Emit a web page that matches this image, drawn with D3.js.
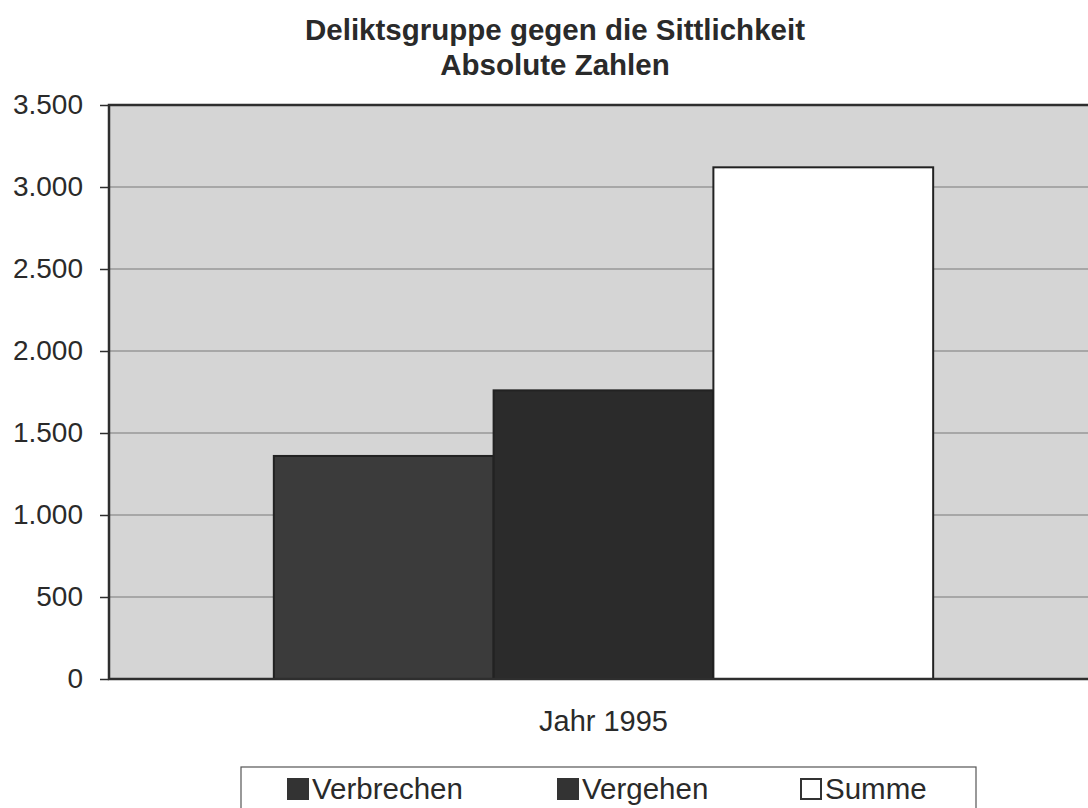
<!DOCTYPE html>
<html>
<head>
<meta charset="utf-8">
<script src="https://cdn.jsdelivr.net/npm/d3@7"></script>
<style>
  body { margin: 0; background: #fff; }
  svg { display: block; }
</style>
</head>
<body>
<svg width="1088" height="808"></svg>
<script>
// data
const categories = ["Jahr 1995"];
const seriesNames = ["Verbrechen", "Vergehen", "Summe"];
const seriesValues = [1360, 1760, 3120];
const seriesColours = ["#3b3b3b", "#2b2b2b", "#ffffff"];
const yTicks = [0, 500, 1000, 1500, 2000, 2500, 3000, 3500];
const titleLines = ["Deliktsgruppe gegen die Sittlichkeit", "Absolute Zahlen"];

const svg = d3.select("svg");
const font = "Liberation Sans, Arial, sans-serif";

const plot = {left: 109, top: 105, right: 1098, bottom: 679};

const y = d3.scaleLinear().domain([0, 3500]).range([plot.bottom, plot.top]);
const x0 = d3.scaleBand().domain(categories).range([plot.left, plot.right]).paddingInner(0).paddingOuter(0.25);
const x1 = d3.scaleBand().domain(seriesNames).range([0, x0.bandwidth()]);

// title
svg.append("g").selectAll("text")
    .data(titleLines)
    .enter().append("text")
    .attr("x", 555)
    .attr("y", function (d, i) { return 40 + i * 35; })
    .attr("text-anchor", "middle")
    .attr("font-family", font)
    .attr("font-weight", "bold")
    .attr("font-size", 29.5)
    .attr("fill", "#2a2a2a")
    .text(function (d) { return d; });

// plot background
svg.append("rect")
    .attr("x", plot.left).attr("y", plot.top)
    .attr("width", plot.right - plot.left).attr("height", plot.bottom - plot.top)
    .attr("fill", "#d5d5d5");

// gridlines
svg.append("g").selectAll("line")
    .data(yTicks.slice(1, -1))
    .enter().append("line")
    .attr("x1", plot.left).attr("x2", plot.right)
    .attr("y1", function (d) { return y(d); })
    .attr("y2", function (d) { return y(d); })
    .attr("stroke", "#7a7a7a").attr("stroke-width", 1.2);

// bars
const bars = svg.append("g")
    .attr("transform", "translate(" + x0(categories[0]) + ",0)");
bars.selectAll("rect")
    .data(seriesValues)
    .enter().append("rect")
    .attr("x", function (d, i) { return x1(seriesNames[i]); })
    .attr("y", function (d) { return y(d); })
    .attr("width", x1.bandwidth())
    .attr("height", function (d) { return plot.bottom - y(d); })
    .attr("fill", function (d, i) { return seriesColours[i]; })
    .attr("stroke", "#222").attr("stroke-width", 2);

// frame: top, left, bottom
svg.append("path")
    .attr("d", "M" + plot.right + "," + plot.top + "H" + plot.left + "V" + plot.bottom + "H" + plot.right)
    .attr("fill", "none").attr("stroke", "#2e2e2e").attr("stroke-width", 2.5);

// y axis
const yAxis = d3.axisLeft(y)
    .tickValues(yTicks)
    .tickSize(9)
    .tickPadding(17)
    .tickFormat(function (d) { return d3.format(",")(d).replace(/,/g, "."); });
const ya = svg.append("g")
    .attr("transform", "translate(" + plot.left + ",0)")
    .call(yAxis);
ya.select(".domain").remove();
ya.selectAll(".tick line").attr("stroke", "#2e2e2e").attr("stroke-width", 1.5);
ya.selectAll(".tick text")
    .attr("font-family", font).attr("font-size", 28).attr("fill", "#2a2a2a");

// category label
svg.append("text")
    .attr("x", x0(categories[0]) + x0.bandwidth() / 2)
    .attr("y", 731)
    .attr("text-anchor", "middle")
    .attr("font-family", font).attr("font-size", 29).attr("fill", "#2a2a2a")
    .text(categories[0]);

// legend
const legend = svg.append("g");
legend.append("rect")
    .attr("x", 241).attr("y", 767).attr("width", 735).attr("height", 60)
    .attr("fill", "#fff").attr("stroke", "#555").attr("stroke-width", 1.2);
const legendX = [287, 557, 800];
const items = legend.selectAll("g.item")
    .data(seriesNames)
    .enter().append("g")
    .attr("class", "item")
    .attr("transform", function (d, i) { return "translate(" + legendX[i] + ",778)"; });
items.append("rect")
    .attr("x", 1).attr("y", 1).attr("width", 20).attr("height", 20)
    .attr("fill", function (d, i) { return i === 2 ? "#fff" : "#333"; })
    .attr("stroke", "#333").attr("stroke-width", 2);
items.append("text")
    .attr("x", 25).attr("y", 21)
    .attr("font-family", font).attr("font-size", 29.5).attr("fill", "#2a2a2a")
    .text(function (d) { return d; });
</script>
</body>
</html>
